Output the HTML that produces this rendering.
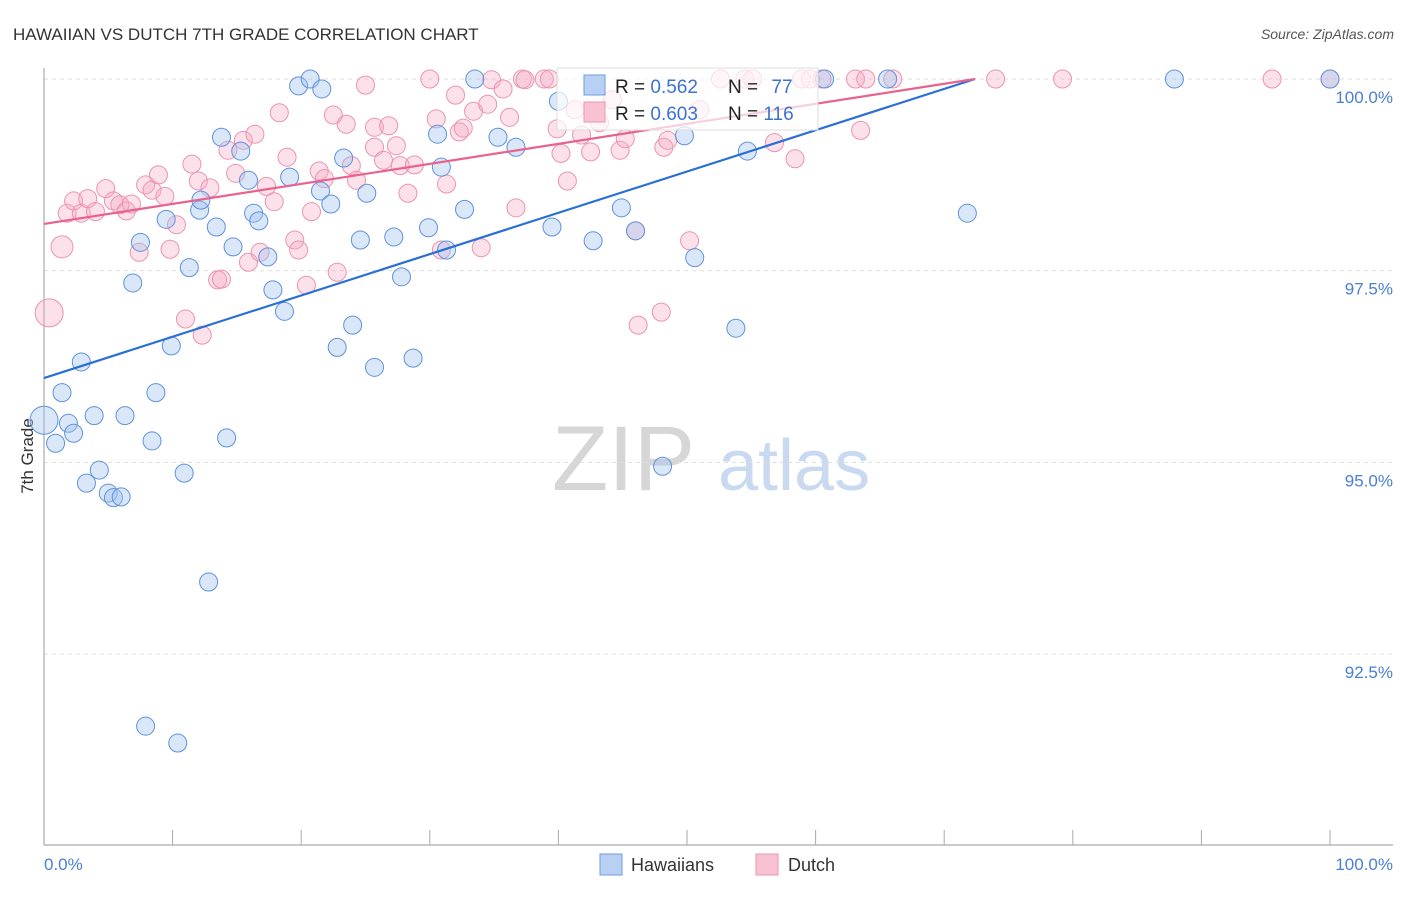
<!DOCTYPE html>
<html><head><meta charset="utf-8"><style>
body{margin:0;background:#fff;font-family:"Liberation Sans",sans-serif;}
svg text{font-family:"Liberation Sans",sans-serif;}
</style></head><body>
<svg id="chart" width="1406" height="892" viewBox="0 0 1406 892" xmlns="http://www.w3.org/2000/svg">
<text x="13" y="40" font-size="17" fill="#333">HAWAIIAN VS DUTCH 7TH GRADE CORRELATION CHART</text>
<text x="1394" y="39" font-size="14" fill="#555" text-anchor="end" font-style="italic">Source: ZipAtlas.com</text>
<g>
<text x="552" y="490" font-size="92" fill="#d6d6d6" font-family="Liberation Serif,serif">ZIP</text>
<text x="718" y="490" font-size="72" fill="#c9daf0">atlas</text>
</g>
<g id="grid"></g>
<line x1="44" y1="68" x2="44" y2="845" stroke="#aaa" stroke-width="1.2"/>
<line x1="44" y1="845" x2="1393" y2="845" stroke="#aaa" stroke-width="1.2"/>
<g id="xticks"></g>
<text transform="translate(33,456) rotate(-90)" font-size="17" fill="#333" text-anchor="middle">7th Grade</text>
<text x="44" y="870" font-size="17" fill="#4a7fd6">0.0%</text>
<text x="1393" y="870" font-size="17" fill="#4a7fd6" text-anchor="end">100.0%</text>
<g id="pts"></g>
<g id="lines"></g>
<g>
<rect x="557" y="68" width="261" height="62" fill="#fff" fill-opacity="0.7" stroke="#ddd"/>
<rect x="584" y="75" width="21" height="20" fill="#b8d0f3" stroke="#6f9de0"/>
<rect x="584" y="102" width="21" height="20" fill="#f8c2d2" stroke="#e995b0"/>
<text x="615" y="93" font-size="19" fill="#222">R = <tspan fill="#3b73d1">0.562</tspan></text>
<text x="728" y="93" font-size="19" fill="#222">N = <tspan fill="#3b73d1" dx="8">77</tspan></text>
<text x="615" y="120" font-size="19" fill="#222">R = <tspan fill="#3b73d1">0.603</tspan></text>
<text x="728" y="120" font-size="19" fill="#222">N = <tspan fill="#3b73d1">116</tspan></text>
</g>
<g>
<rect x="600" y="854" width="22" height="21" fill="#b8d0f3" stroke="#6f9de0"/>
<text x="631" y="871" font-size="18" fill="#333">Hawaiians</text>
<rect x="756" y="854" width="22" height="21" fill="#f8c2d2" stroke="#e995b0"/>
<text x="788" y="871" font-size="18" fill="#333">Dutch</text>
</g>
</svg>
<script>
const yTicks=[100,97.5,95,92.5];
const yTickLabels=["100.0%","97.5%","95.0%","92.5%"];
const xTicks=[0,10,20,30,40,50,60,70,80,90,100];
const blueX=[0,0.9,1.4,1.9,2.3,2.9,3.3,3.9,4.3,5.0,5.4,6.0,6.3,6.9,7.5,7.9,8.4,8.7,9.5,9.9,10.4,10.9,11.3,12.1,12.2,12.8,13.4,13.8,14.2,14.7,15.3,15.9,16.3,16.7,17.4,17.8,18.7,19.1,19.8,20.7,21.5,21.6,22.3,22.8,23.3,24.0,24.6,25.1,25.7,27.2,27.8,28.7,29.9,30.6,30.9,31.3,32.7,33.5,35.3,36.7,39.5,40.0,42.7,44.9,46.0,48.1,49.8,50.6,53.8,54.7,60.7,65.6,71.8,87.9,100];
const blueY=[95.55,95.25,95.91,95.51,95.38,96.31,94.73,95.61,94.90,94.60,94.54,94.55,95.61,97.34,97.87,91.56,95.28,95.91,98.17,96.52,91.34,94.86,97.54,98.29,98.42,93.44,98.07,99.24,95.32,97.81,99.06,98.68,98.25,98.15,97.68,97.25,96.97,98.72,99.91,100,98.54,99.87,98.37,96.50,98.97,96.79,97.90,98.51,96.24,97.94,97.42,96.36,98.06,99.28,98.85,97.77,98.30,100,99.24,99.11,98.07,99.71,97.89,98.32,98.02,94.95,99.26,97.67,96.75,99.06,100,100,98.25,100,100];
const pinkX=[0.4,1.4,1.8,2.3,2.9,3.4,4.0,4.8,5.4,5.9,6.4,6.8,7.4,7.9,8.4,8.9,9.4,9.8,10.3,11.0,11.5,12.0,12.3,12.9,13.5,13.8,14.3,14.9,15.5,15.9,16.4,16.8,17.3,17.9,18.3,18.9,19.5,19.8,20.4,20.8,21.4,21.8,22.5,22.8,23.5,23.9,24.3,25.0,25.7,25.7,26.4,26.8,27.4,27.7,28.3,28.8,30.0,30.5,31.3,30.9,32.0,32.3,32.6,33.4,34.0,34.5,34.8,35.7,36.2,36.7,37.2,37.4,38.9,39.3,39.9,40.2,40.7,41.3,41.8,42.5,43.2,44.2,44.8,45.2,46.0,46.2,48.0,48.2,48.5,50.2,51.0,52.6,54.5,55.1,56.8,58.4,58.9,59.6,60.5,63.1,63.5,63.9,66.0,74.0,79.2,95.5,100];
const pinkY=[96.95,97.81,98.25,98.41,98.25,98.44,98.27,98.57,98.41,98.36,98.28,98.37,97.74,98.62,98.55,98.75,98.47,97.78,98.10,96.87,98.89,98.67,96.66,98.58,97.38,97.39,99.07,98.77,99.20,97.61,99.28,97.74,98.60,98.40,99.56,98.98,97.90,97.77,97.31,98.27,98.80,98.70,99.53,97.48,99.41,98.87,98.68,99.92,99.11,99.37,98.94,99.39,99.13,98.87,98.51,98.88,100,99.48,98.63,97.77,99.79,99.31,99.36,99.58,97.80,99.67,99.99,99.87,99.50,98.32,100,99.99,100,100,99.35,99.03,98.67,99.60,99.27,99.05,99.43,99.73,99.07,99.22,98.02,96.79,96.96,99.11,99.20,97.89,99.60,100,100,100,99.17,98.96,100,100,100,100,99.33,100,100,100,100,100,100];
const blueTrend=[[0,96.1],[72.4,100]];
const pinkTrend=[[0,98.11],[72.4,100]];
const NS="http://www.w3.org/2000/svg";
function xs(v){return 44+v*12.86;}
function ys(v){return 79+(100-v)*76.68;}
function mk(t,a,p){const e=document.createElementNS(NS,t);for(const k in a)e.setAttribute(k,a[k]);p.appendChild(e);return e;}
const grid=document.getElementById('grid');
yTicks.forEach((t,i)=>{
  const l=mk('line',{x1:44,x2:1393,y1:ys(t),y2:ys(t),stroke:'#ddd','stroke-dasharray':'4,4'},grid);
  
  
  const tx=mk('text',{x:1393,y:ys(t)+24,'font-size':17,fill:'#4a7fd6','text-anchor':'end'},grid);
  tx.textContent=yTickLabels[i];
  
  
});
const xt=document.getElementById('xticks');
xTicks.forEach(t=>{
  const l=mk('line',{x1:xs(t),x2:xs(t),y1:830,y2:845,stroke:'#aaa'},xt);
  
  
});
const pts=document.getElementById('pts');
pinkX.forEach((x,i)=>{
  const r=i===0?14:(i===1?11:9);
  const c=mk('circle',{cx:xs(x),cy:ys(pinkY[i]),r:r,fill:'rgba(246,168,194,0.35)',stroke:'#eb93b0','stroke-width':1},pts);
  
  
});
blueX.forEach((x,i)=>{
  const r=i===0?14:9;
  const c=mk('circle',{cx:xs(x),cy:ys(blueY[i]),r:r,fill:'rgba(160,194,240,0.4)',stroke:'#5f92dc','stroke-width':1},pts);
  
  
});
const lines=document.getElementById('lines');
const bl=mk('line',{x1:xs(blueTrend[0][0]),y1:ys(blueTrend[0][1]),x2:xs(blueTrend[1][0]),y2:ys(blueTrend[1][1]),stroke:'#2a6fd6','stroke-width':2.2},lines);


const pl=mk('line',{x1:xs(pinkTrend[0][0]),y1:ys(pinkTrend[0][1]),x2:xs(pinkTrend[1][0]),y2:ys(pinkTrend[1][1]),stroke:'#e8628c','stroke-width':2.2},lines);


</script>
</body></html>
